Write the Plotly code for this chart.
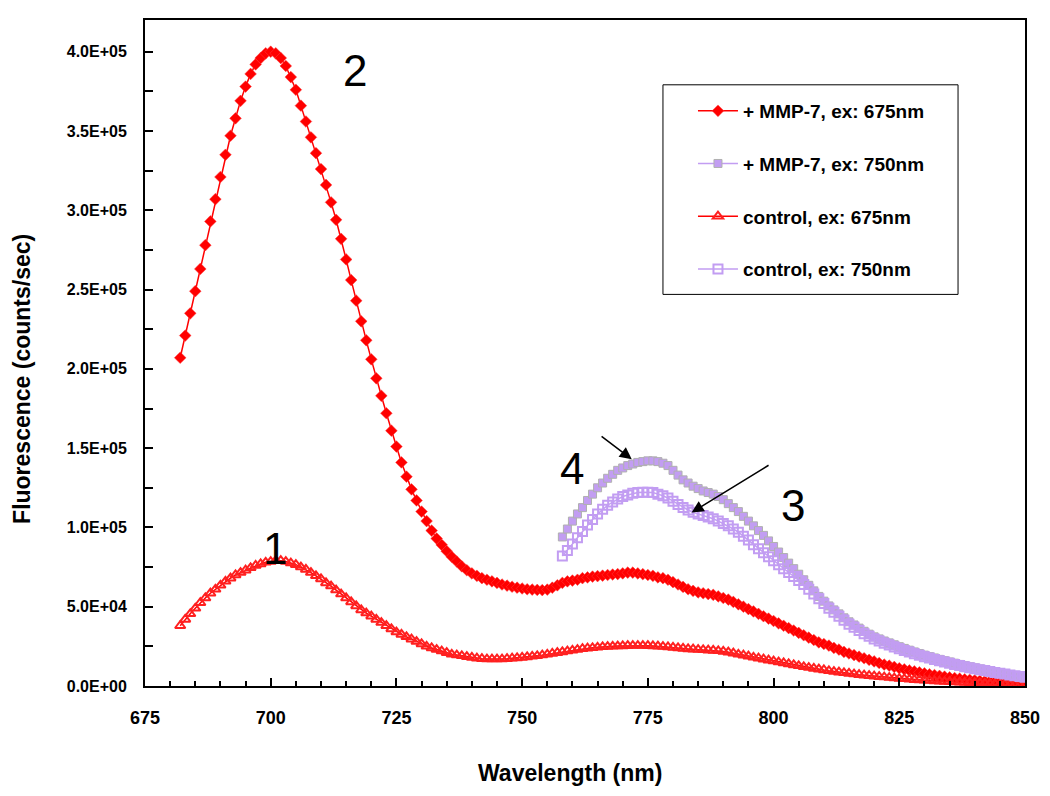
import plotly.graph_objects as go

# ---------------- data (wavelength in nm, fluorescence in thousands of counts/sec) ----------------
wl_ex675 = list(range(682, 851))
wl_ex750 = list(range(758, 851))

mmp_675_k = [
    207, 221, 235, 249, 263, 278, 293, 307, 321, 335,
    347, 358, 369, 378, 386, 392, 396, 399, 400, 399,
    396, 391, 384, 376, 366, 356, 346, 336, 326, 316,
    305, 294, 282, 269, 256, 243, 230, 218, 206, 194,
    183, 172, 161, 151, 141, 132, 124, 117, 110, 104,
    98, 93, 89, 85, 81.5, 78.5, 75.5, 73, 71, 69.5,
    68, 67, 66, 65, 64, 63.3, 62.6, 62, 61.5, 61,
    60.8, 60.6, 60.5, 60.8, 62, 63.5, 65, 66, 66.5, 67,
    68, 68.5, 69, 69.3, 69.6, 70, 70.3, 70.6, 71, 71.5,
    71.5, 71, 70.5, 70, 69.5, 68.5, 68, 67, 65.5, 64,
    62.5, 61, 60, 59, 58.5, 58, 57.5, 56.5, 55.5, 54.5,
    53, 51.5, 50, 48.5, 47, 45.5, 44, 42.5, 41, 39.5,
    38, 36.5, 35, 33.5, 32, 30.5, 29, 27.5, 26.5, 25.5,
    24, 23, 21.5, 20.5, 19.5, 18.5, 17.5, 16.5, 15.5, 14.5,
    13.5, 12.8, 12, 11.2, 10.5, 9.8, 9.2, 8.6, 8.0, 7.4,
    6.9, 6.4, 5.9, 5.4, 5.0, 4.6, 4.2, 3.9, 3.6, 3.3,
    3.0, 2.7, 2.4, 2.1, 1.8, 1.5, 1.2, 1.0, 0.8,
]

mmp_750_k = [
    94, 99, 104, 108.5, 112.5, 117, 121, 125, 128, 131,
    133.5, 136, 137.5, 139, 140, 141, 141.5, 142, 142, 141.5,
    140.5, 139, 136, 133, 130, 128, 126, 124.5, 123, 122,
    121, 119.5, 117.5, 115, 112.5, 110, 107, 104, 101, 98,
    95, 91.5, 88, 84.5, 81, 77.5, 74, 70.5, 67, 63.5,
    60, 56.5, 53.5, 50.5, 48, 45.5, 43, 40.5, 38.5, 36.5,
    34.5, 32.7, 31, 29.7, 28.4, 27.2, 26, 24.8, 23.7, 22.6,
    21.5, 20.5, 19.5, 18.6, 17.7, 16.8, 16, 15.2, 14.4, 13.6,
    12.9, 12.2, 11.5, 10.8, 10.2, 9.6, 9, 8.4, 7.8, 7.2,
    6.7, 6.2, 5.7,
]

ctrl_675_k = [
    38, 42, 45.5, 49, 52.5, 55.5, 58.5, 61, 63.5, 66,
    68, 70, 71.5, 73, 74.5, 76, 77, 78, 78.5, 79,
    79, 78.5, 77.5, 76.5, 75, 73.5, 71.5, 69.5, 67.5, 65,
    63, 60.5, 58, 55.5, 53, 50.5, 48, 46, 44, 42,
    40, 38, 36, 34, 32.5, 31, 29.5, 28, 26.5, 25,
    24, 23, 22, 21, 20, 19.5, 19, 18.5, 18, 17.5,
    17.2, 17, 17, 17, 17, 17.2, 17.5, 17.7, 18, 18.3,
    18.7, 19, 19.5, 20, 20.5, 21, 21.5, 22, 22.5, 23,
    23.5, 23.8, 24.1, 24.4, 24.7, 24.9, 25, 25.2, 25.3, 25.4,
    25.5, 25.5, 25.5, 25.4, 25.3, 25.1, 24.9, 24.6, 24.3, 24,
    23.7, 23.4, 23.2, 23, 22.8, 22.6, 22.4, 22.2, 21.8, 21.3,
    20.7, 20, 19.4, 18.8, 18.1, 17.5, 16.9, 16.3, 15.7, 15.1,
    14.5, 13.9, 13.3, 12.7, 12.1, 11.6, 11.1, 10.6, 10.1, 9.6,
    9.1, 8.7, 8.3, 7.9, 7.5, 7.1, 6.8, 6.5, 6.2, 5.9,
    5.6, 5.3, 5.0, 4.7, 4.5, 4.2, 4.0, 3.8, 3.6, 3.4,
    3.2, 3.0, 2.8, 2.7, 2.5, 2.4, 2.2, 2.1, 2.0, 1.8,
    1.7, 1.5, 1.4, 1.2, 1.1, 0.9, 0.8, 0.6, 0.5,
]

ctrl_750_k = [
    82, 85.5, 89.5, 93.5, 97.5, 101.5, 105, 108.5, 111.5, 114,
    116, 118, 119.5, 120.5, 121.5, 122, 122.2, 122.2, 122, 121,
    120, 118.5, 116.5, 114.5, 112.5, 111, 109.5, 108.5, 107.5, 106.5,
    105.5, 104, 102.5, 101, 99, 97, 94.5, 92, 89, 86.5,
    84, 81.5, 79, 76.5, 74, 71.5, 69, 66.5, 64, 61,
    58, 55, 52, 49, 46.5, 44, 41.5, 39, 37, 35,
    33, 31.3, 29.7, 28.3, 27, 25.8, 24.6, 23.5, 22.4, 21.4,
    20.4, 19.4, 18.5, 17.6, 16.7, 15.9, 15.1, 14.3, 13.6, 12.9,
    12.2, 11.5, 10.9, 10.3, 9.7, 9.1, 8.5, 8.0, 7.5, 7.0,
    6.5, 6.0, 5.5,
]

series_names = ["+ MMP-7, ex: 675nm", "+ MMP-7, ex: 750nm",
                "control, ex: 675nm", "control, ex: 750nm"]

y_tick_vals = [0, 50000, 100000, 150000, 200000, 250000, 300000, 350000, 400000]
y_tick_text = ["0.0E+00", "5.0E+04", "1.0E+05", "1.5E+05", "2.0E+05",
               "2.5E+05", "3.0E+05", "3.5E+05", "4.0E+05"]
x_tick_vals = [675, 700, 725, 750, 775, 800, 825, 850]

# convert thousands -> counts/sec
mmp_675 = [v * 1000 for v in mmp_675_k]
mmp_750 = [v * 1000 for v in mmp_750_k]
ctrl_675 = [v * 1000 for v in ctrl_675_k]
ctrl_750 = [v * 1000 for v in ctrl_750_k]

RED = "#FF0000"
LAV = "#C29DF2"
FONT = "Liberation Sans, Arial, sans-serif"

fig = go.Figure()
fig.add_trace(go.Scatter(
    x=wl_ex675, y=mmp_675, name=series_names[0], mode="lines+markers", legendgroup="a",
    line=dict(color=RED, width=1.5),
    marker=dict(symbol="diamond", size=9, color=RED, line=dict(color="#FF4040", width=0.5))))
fig.add_trace(go.Scatter(
    x=wl_ex750, y=mmp_750, name=series_names[1], mode="lines+markers", legendgroup="b",
    line=dict(color=LAV, width=1.5),
    marker=dict(symbol="square", size=8, color=LAV, line=dict(color="#B0B0B0", width=1))))
fig.add_trace(go.Scatter(
    x=wl_ex675, y=ctrl_675, name=series_names[2], mode="lines+markers", legendgroup="c",
    line=dict(color=RED, width=1.5),
    marker=dict(symbol="triangle-up-open", size=9, color="#FF2020", line=dict(width=2))))
fig.add_trace(go.Scatter(
    x=wl_ex750, y=ctrl_750, name=series_names[3], mode="lines+markers", legendgroup="d",
    line=dict(color=LAV, width=1.5),
    marker=dict(symbol="square-open", size=9, color=LAV, line=dict(width=2))))

# legend frame
fig.add_shape(type="rect", xref="paper", yref="paper",
              x0=0.5886, x1=0.9239, y0=0.588, y1=0.9027,
              line=dict(color="black", width=1), fillcolor="white", layer="below")

# peak labels
label_font = dict(family=FONT, size=44, color="black")
for txt, xx, yy in [("1", 700.9, 87000), ("2", 716.8, 388000), ("3", 803.9, 113700), ("4", 759.9, 137000)]:
    fig.add_annotation(x=xx, y=yy, text=txt, showarrow=False, font=label_font)

# arrows
for (tx, ty, sx, sy) in [(771.8, 143000, 765.5, 158200), (783.7, 109400, 799.3, 139800)]:
    fig.add_annotation(x=tx, y=ty, ax=sx, ay=sy, xref="x", yref="y", axref="x", ayref="y",
                       text="", showarrow=True, arrowhead=2, arrowsize=1.6, arrowwidth=1.5,
                       arrowcolor="black")

# axis titles (placed as in the original, slightly off-centre)
title_font = dict(family=FONT, size=23, weight="bold", color="black")
fig.add_annotation(text="Wavelength (nm)", xref="paper", yref="paper",
                   x=(562 - 137) / 880, y=-(765 - 678) / 668, xanchor="center", yanchor="middle",
                   showarrow=False, font=title_font)
fig.add_annotation(text="Fluorescence (counts/sec)", xref="paper", yref="paper",
                   x=-(137 - 14) / 880, y=(678 - 370) / 668, xanchor="center", yanchor="middle",
                   textangle=-90, showarrow=False, font=title_font)

fig.update_layout(
    width=1050, height=796,
    margin=dict(l=137, r=33, t=10, b=118),
    paper_bgcolor="white", plot_bgcolor="white",
    font=dict(family=FONT, color="black"),
    showlegend=True,
    legend=dict(x=0.6227, y=0.892, xanchor="left", yanchor="top",
                bgcolor="rgba(0,0,0,0)", borderwidth=0,
                font=dict(size=19, weight="bold", color="black"),
                tracegroupgap=25, itemwidth=40),
)

fig.update_xaxes(
    range=[675, 850], tickvals=x_tick_vals, ticks="inside", ticklen=8, tickwidth=1.5,
    tickcolor="black", showline=True, linecolor="black", linewidth=2, mirror=True,
    showgrid=False, zeroline=False,
    tickfont=dict(size=18, weight="bold"), ticklabelstandoff=14,
    minor=dict(dtick=5, tick0=675, ticks="inside", ticklen=5, tickwidth=1.5, tickcolor="black", showgrid=False),
)
fig.update_yaxes(
    range=[0, 420000], tickvals=y_tick_vals, ticktext=y_tick_text, ticks="inside", ticklen=8,
    tickwidth=1.5, tickcolor="black", showline=True, linecolor="black", linewidth=2, mirror=True,
    showgrid=False, zeroline=False,
    tickfont=dict(size=16, weight="bold"), ticklabelstandoff=13,
    minor=dict(dtick=25000, tick0=0, ticks="inside", ticklen=8, tickwidth=1.5, tickcolor="black", showgrid=False),
)

fig.write_html("out.html")
